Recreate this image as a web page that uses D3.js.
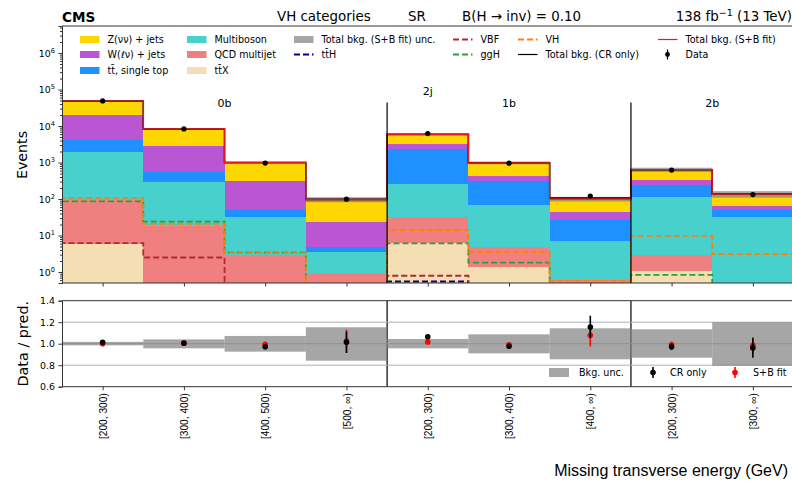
<!DOCTYPE html>
<html><head><meta charset="utf-8">
<script src="https://cdn.jsdelivr.net/npm/d3@7"></script>
<style>
body{margin:0;background:#fff;}
svg{display:block;font-family:'DejaVu Sans',sans-serif;}
</style></head><body>
<svg id="chart" width="792" height="481"></svg>
<script>
// ---- bins and categories ----
const binLabels = ["[200, 300)","[300, 400)","[400, 500)","[500, ∞)","[200, 300)","[300, 400)","[400, ∞)","[200, 300)","[300, ∞)"];
const categoryNames = ["0b","1b","2b"];
const categoryStart = [0, 4, 7];
const categoryEnd = [4, 7, 9];
const categorySplits = [4, 7];

// ---- background yields per bin (stacked, bottom to top) ----
const ttX        = [6.0, 0.3, 0.2, 0.15, 6.2, 1.37, 0.15, 1.04, 0.15];
const qcd        = [94, 17.5, 2.65, 0.79, 26.8, 3.43, 0.46, 1.94, 0.25];
const multiboson = [1900, 284, 29.2, 2.66, 230, 65.2, 6.6, 108, 31.1];
const ttbar      = [2200, 248, 19, 1.1, 2137, 240, 19.8, 135, 19.5];
const wjets      = [16200, 2350, 266, 18.3, 900, 115, 16, 78, 12];
const zjets      = [27600, 5400, 673, 74, 2600, 555, 57, 311, 74];

// total background from the CR-only fit
const totalCR    = [48000, 8300, 1005, 98, 5900, 990, 106, 635, 137];
// relative uncertainty band (S+B fit)
const bandLo     = [0.985, 0.957, 0.926, 0.842, 0.957, 0.910, 0.855, 0.870, 0.795];
const bandHi     = [1.017, 1.040, 1.072, 1.153, 1.044, 1.087, 1.143, 1.134, 1.200];

// ---- signal overlays ----
const sigVBF = [6.2, 2.5, 0.3, 0.3, 0.79, 0.3, 0.3, 0.3, 0.3];
const sigGGH = [86, 24, 3.4, 0.3, 6.1, 1.8, 0.3, 0.84, 0.3];
const sigVH  = [108, 21, 3.3, 0.3, 14, 3.5, 0.58, 9.8, 3.1];
const sigTTH = [0.3, 0.3, 0.3, 0.3, 0.55, 0.3, 0.3, 0.3, 0.3];

// ---- observed data ----
const dataObs = [48600, 8300, 965, 99, 6200, 960, 121, 620, 132];

// ---- ratio panel ----
const ratioCR    = [1.013, 1.005, 0.972, 1.013, 1.065, 0.976, 1.155, 0.972, 0.960];
const ratioCRErr = [0.005, 0.011, 0.020, 0.100, 0.013, 0.022, 0.105, 0.030, 0.090];
const ratioSB    = [1.000, 1.005, 0.994, 1.025, 1.016, 0.990, 1.078, 0.990, 0.985];
const ratioSBErr = [0.005, 0.011, 0.020, 0.105, 0.013, 0.022, 0.105, 0.030, 0.075];

const mainTicks = [1, 10, 100, 1e3, 1e4, 1e5, 1e6];
const ratioTicks = [0.6, 0.8, 1.0, 1.2, 1.4];

// ---- styling ----
const bkgKeys   = ["ttX","qcd","multiboson","ttbar","wjets","zjets"];
const bkgColors = {ttX:"#F5DEB3", qcd:"#F08080", multiboson:"#48D1CC", ttbar:"#1E90FF", wjets:"#BA55D3", zjets:"#FFD700"};
const bandFill = "#808080", bandOpacity = 0.7;
const cVBF = "#b22a2e", cGGH = "#2ca02c", cVH = "#ff7f0e", cTTH = "#00008b";
const dash = "6,3";

const svg = d3.select("#chart");
svg.append("rect").attr("width",792).attr("height",481).attr("fill","#fff");

const L = 62, R = 793.5;
const mainTop = 26, mainBot = 283;
const ratTop = 300.7, ratBot = 386.7;
const nb = binLabels.length;

const x = d3.scaleLinear().domain([0, nb]).range([L, R]);
const y = d3.scaleLog().domain([0.5, 5.5e6]).range([mainBot, mainTop]);
const yr = d3.scaleLinear().domain([0.6, 1.4]).range([ratBot, ratTop]);
const floorVal = 0.1;

svg.append("clipPath").attr("id","clipMain").append("rect")
  .attr("x",L).attr("y",mainTop).attr("width",R-L).attr("height",mainBot-mainTop);
svg.append("clipPath").attr("id","clipRatio").append("rect")
  .attr("x",L).attr("y",ratTop).attr("width",R-L).attr("height",ratBot-ratTop);

// ---- stacked backgrounds ----
const rows = binLabels.map((b,i)=>({bin:i, ttX:ttX[i], qcd:qcd[i], multiboson:multiboson[i], ttbar:ttbar[i], wjets:wjets[i], zjets:zjets[i]}));
const stacked = d3.stack().keys(bkgKeys)(rows);
const gMain = svg.append("g").attr("clip-path","url(#clipMain)");

stacked.forEach(layer=>{
  gMain.append("g").selectAll("rect").data(layer).join("rect")
    .attr("x", d=>x(d.data.bin))
    .attr("width", d=>x(d.data.bin+1)-x(d.data.bin))
    .attr("y", d=>y(d[1]))
    .attr("height", d=>y(Math.max(d[0],floorVal))-y(d[1]))
    .attr("fill", bkgColors[layer.key])
    .attr("shape-rendering","crispEdges");
});
const totalSB = stacked[stacked.length-1].map(d=>d[1]);

// uncertainty band
gMain.append("g").selectAll("rect").data(totalSB).join("rect")
  .attr("x",(d,i)=>x(i)).attr("width",(d,i)=>x(i+1)-x(i))
  .attr("y",(d,i)=>y(d*bandHi[i]))
  .attr("height",(d,i)=>y(d*bandLo[i])-y(d*bandHi[i]))
  .attr("fill",bandFill).attr("fill-opacity",bandOpacity);

// step outlines
function stepPath(vals){
  const pts=[[x(0), y(floorVal)]];
  vals.forEach((v,i)=>{ pts.push([x(i), y(v)], [x(i+1), y(v)]); });
  pts.push([x(vals.length), y(floorVal)]);
  return d3.line()(pts);
}
const steps = [
  {v:sigTTH, c:cTTH, d:dash, w:1.8},
  {v:sigVBF, c:cVBF, d:dash, w:1.8},
  {v:sigGGH, c:cGGH, d:dash, w:1.8},
  {v:sigVH,  c:cVH,  d:dash, w:1.8},
  {v:totalCR, c:"#000", d:null, w:1.6},
  {v:totalSB, c:"#e8191e", d:null, w:1.3}
];
steps.forEach(s=>{
  gMain.append("path").attr("d",stepPath(s.v)).attr("fill","none")
    .attr("stroke",s.c).attr("stroke-width",s.w)
    .attr("stroke-dasharray",s.d);
});

// data points
gMain.append("g").selectAll("circle").data(dataObs).join("circle")
  .attr("cx",(d,i)=>x(i+0.5)).attr("cy",d=>y(d)).attr("r",2.6).attr("fill","#000");

// category separators and labels
const sepTopVal = 4.4e4;
categorySplits.forEach(s=>{
  svg.append("line").attr("x1",x(s)).attr("x2",x(s)).attr("y1",y(sepTopVal)).attr("y2",mainBot)
    .attr("stroke","#000").attr("stroke-width",1.2);
  svg.append("line").attr("x1",x(s)).attr("x2",x(s)).attr("y1",ratTop).attr("y2",ratBot)
    .attr("stroke","#000").attr("stroke-width",1.2);
});
categoryNames.forEach((c,k)=>{
  svg.append("text").attr("x",x((categoryStart[k]+categoryEnd[k])/2)).attr("y",106.7)
    .attr("text-anchor","middle").attr("font-size",11).text(c);
});
svg.append("text").attr("x",x(4.5)).attr("y",94.5).attr("text-anchor","middle").attr("font-size",11).text("2j");

// ---- main axes ----
const frame = "#333";
svg.append("line").attr("x1",L).attr("x2",R).attr("y1",mainTop).attr("y2",mainTop).attr("stroke",frame);
svg.append("line").attr("x1",L).attr("x2",R).attr("y1",mainBot).attr("y2",mainBot).attr("stroke",frame);

const minor = [];
for(let e=-1;e<=6;e++) for(let m=2;m<=9;m++){ const v=m*Math.pow(10,e); if(v>=0.5 && v<=5.5e6) minor.push(v); }
const gMinor = svg.append("g").attr("transform",`translate(${L},0)`)
  .call(d3.axisLeft(y).tickValues(minor).tickSize(2).tickFormat(""));
gMinor.select(".domain").remove();
gMinor.selectAll("line").attr("stroke",frame);

const gY = svg.append("g").attr("transform",`translate(${L},0)`)
  .call(d3.axisLeft(y).tickValues(mainTicks).tickSize(3.5).tickPadding(3.5).tickFormat(d=>d));
gY.select(".domain").attr("stroke",frame);
gY.selectAll("line").attr("stroke",frame);
gY.selectAll(".tick text").each(function(d){
  const t=d3.select(this); t.text(null)
    .attr("font-family","'DejaVu Sans',sans-serif").attr("font-size",9.4).attr("fill","#000");
  t.append("tspan").text("10");
  t.append("tspan").attr("dy",-4).attr("font-size",6.6).text(Math.round(Math.log10(d)));
});

const centers = binLabels.map((b,i)=>i+0.5);
const gX = svg.append("g").attr("transform",`translate(0,${mainBot})`)
  .call(d3.axisBottom(x).tickValues(centers).tickSize(3.5).tickFormat(""));
gX.select(".domain").remove();
gX.selectAll("line").attr("stroke",frame);

svg.append("text").attr("transform","translate(27,155) rotate(-90)").attr("text-anchor","middle")
  .attr("font-size",14.2).text("Events");

// ---- ratio panel ----
const gRat = svg.append("g").attr("clip-path","url(#clipRatio)");
[0.8,1.0,1.2].forEach(v=>{
  gRat.append("line").attr("x1",L).attr("x2",R).attr("y1",yr(v)).attr("y2",yr(v))
    .attr("stroke","#b0b0b0").attr("stroke-width",1);
});
gRat.append("g").selectAll("rect").data(bandLo).join("rect")
  .attr("x",(d,i)=>x(i)).attr("width",(d,i)=>x(i+1)-x(i))
  .attr("y",(d,i)=>yr(bandHi[i])).attr("height",(d,i)=>yr(bandLo[i])-yr(bandHi[i]))
  .attr("fill",bandFill).attr("fill-opacity",bandOpacity);

function ratioPoints(vals, errs, color){
  const g=gRat.append("g");
  g.selectAll("line").data(vals).join("line")
    .attr("x1",(d,i)=>x(i+0.5)).attr("x2",(d,i)=>x(i+0.5))
    .attr("y1",(d,i)=>yr(d+errs[i])).attr("y2",(d,i)=>yr(d-errs[i]))
    .attr("stroke",color).attr("stroke-width",1.6);
  g.selectAll("circle").data(vals).join("circle")
    .attr("cx",(d,i)=>x(i+0.5)).attr("cy",d=>yr(d)).attr("r",2.8).attr("fill",color);
}
ratioPoints(ratioSB, ratioSBErr, "#ff0000");
ratioPoints(ratioCR, ratioCRErr, "#000");

svg.append("line").attr("x1",L).attr("x2",R).attr("y1",ratTop).attr("y2",ratTop).attr("stroke",frame);
svg.append("line").attr("x1",L).attr("x2",R).attr("y1",ratBot).attr("y2",ratBot).attr("stroke",frame);

const gYr = svg.append("g").attr("transform",`translate(${L},0)`)
  .call(d3.axisLeft(yr).tickValues(ratioTicks).tickSize(3.5).tickPadding(3.5).tickFormat(d3.format(".1f")));
gYr.select(".domain").attr("stroke",frame);
gYr.selectAll("line").attr("stroke",frame);
gYr.selectAll("text").attr("font-family","'DejaVu Sans',sans-serif").attr("font-size",9.4).attr("fill","#000");

const gXr = svg.append("g").attr("transform",`translate(0,${ratBot})`)
  .call(d3.axisBottom(x).tickValues(centers).tickSize(3.5).tickFormat((d,i)=>binLabels[i]));
gXr.select(".domain").remove();
gXr.selectAll("line").attr("stroke",frame);
gXr.selectAll("text")
  .attr("transform","rotate(-90)").attr("x",-6.5).attr("y",0).attr("dy","0.35em")
  .attr("text-anchor","end").attr("font-family","'Liberation Sans',Arial,sans-serif")
  .attr("font-size",10.2).attr("fill","#000");

svg.append("text").attr("transform","translate(28,343.7) rotate(-90)").attr("text-anchor","middle")
  .attr("font-size",14.4).text("Data / pred.");

svg.append("text").attr("x",788).attr("y",476).attr("text-anchor","end")
  .attr("font-family","'Liberation Sans',Arial,sans-serif").attr("font-size",16)
  .text("Missing transverse energy (GeV)");

// ratio legend
const rl = svg.append("g").attr("font-size",9.6);
rl.append("rect").attr("x",549).attr("y",368).attr("width",20).attr("height",9)
  .attr("fill",bandFill).attr("fill-opacity",bandOpacity);
rl.append("text").attr("x",579).attr("y",376).text("Bkg. unc.");
[[653,"#000","CR only",670],[735,"#ff0000","S+B fit",753]].forEach(e=>{
  rl.append("line").attr("x1",e[0]).attr("x2",e[0]).attr("y1",367).attr("y2",378).attr("stroke",e[1]).attr("stroke-width",1.6);
  rl.append("circle").attr("cx",e[0]).attr("cy",372.5).attr("r",2.8).attr("fill",e[1]);
  rl.append("text").attr("x",e[3]).attr("y",376).text(e[2]);
});

// ---- main legend ----
const legendCols = [80, 187, 294, 453, 518, 658];
const legendRows = [39.5, 54.5, 70.5];
const legendItems = [
  {col:0,row:0,type:"patch",color:bkgColors.zjets,label:"Z(νν) + jets"},
  {col:0,row:1,type:"patch",color:bkgColors.wjets,label:"W(ℓν) + jets"},
  {col:0,row:2,type:"patch",color:bkgColors.ttbar,label:"tt\u0304, single top"},
  {col:1,row:0,type:"patch",color:bkgColors.multiboson,label:"Multiboson"},
  {col:1,row:1,type:"patch",color:bkgColors.qcd,label:"QCD multijet"},
  {col:1,row:2,type:"patch",color:bkgColors.ttX,label:"tt\u0304X"},
  {col:2,row:0,type:"band",label:"Total bkg. (S+B fit) unc."},
  {col:2,row:1,type:"dash",color:cTTH,label:"tt\u0304H"},
  {col:3,row:0,type:"dash",color:cVBF,label:"VBF"},
  {col:3,row:1,type:"dash",color:cGGH,label:"ggH"},
  {col:4,row:0,type:"dash",color:cVH,label:"VH"},
  {col:4,row:1,type:"line",color:"#000",label:"Total bkg. (CR only)"},
  {col:5,row:0,type:"line",color:"#e8191e",label:"Total bkg. (S+B fit)"},
  {col:5,row:1,type:"data",color:"#000",label:"Data"}
];
const lg = svg.append("g").attr("font-size",9.6);
legendItems.forEach(it=>{
  const x0=legendCols[it.col], yc=legendRows[it.row];
  if(it.type==="patch") lg.append("rect").attr("x",x0).attr("y",yc-3.5).attr("width",19.5).attr("height",7).attr("fill",it.color);
  if(it.type==="band") lg.append("rect").attr("x",x0).attr("y",yc-3.5).attr("width",19.5).attr("height",7).attr("fill",bandFill).attr("fill-opacity",bandOpacity);
  if(it.type==="dash") lg.append("line").attr("x1",x0).attr("x2",x0+19.5).attr("y1",yc).attr("y2",yc).attr("stroke",it.color).attr("stroke-width",1.8).attr("stroke-dasharray",dash);
  if(it.type==="line") lg.append("line").attr("x1",x0).attr("x2",x0+19.5).attr("y1",yc).attr("y2",yc).attr("stroke",it.color).attr("stroke-width",1.2);
  if(it.type==="data"){
    lg.append("line").attr("x1",x0+9.5).attr("x2",x0+9.5).attr("y1",yc-5).attr("y2",yc+5).attr("stroke","#000").attr("stroke-width",1.2);
    lg.append("circle").attr("cx",x0+9.5).attr("cy",yc).attr("r",2.4).attr("fill","#000");
  }
  lg.append("text").attr("x",x0+27.5).attr("y",yc+3.5).text(it.label);
});

// ---- header ----
svg.append("text").attr("x",62).attr("y",21.5).attr("font-weight","bold").attr("font-size",13.6).text("CMS");
const hdr = svg.append("g").attr("font-size",13.4);
hdr.append("text").attr("x",277).attr("y",21).text("VH categories");
hdr.append("text").attr("x",408).attr("y",21).text("SR");
hdr.append("text").attr("x",462).attr("y",21).text("B(H → inv) = 0.10");
const lumi = hdr.append("text").attr("x",792).attr("y",21).attr("text-anchor","end");
lumi.append("tspan").text("138 fb");
lumi.append("tspan").attr("dy",-5).attr("font-size",9.5).text("−1");
lumi.append("tspan").attr("dy",5).text(" (13 TeV)");
</script>
</body></html>
